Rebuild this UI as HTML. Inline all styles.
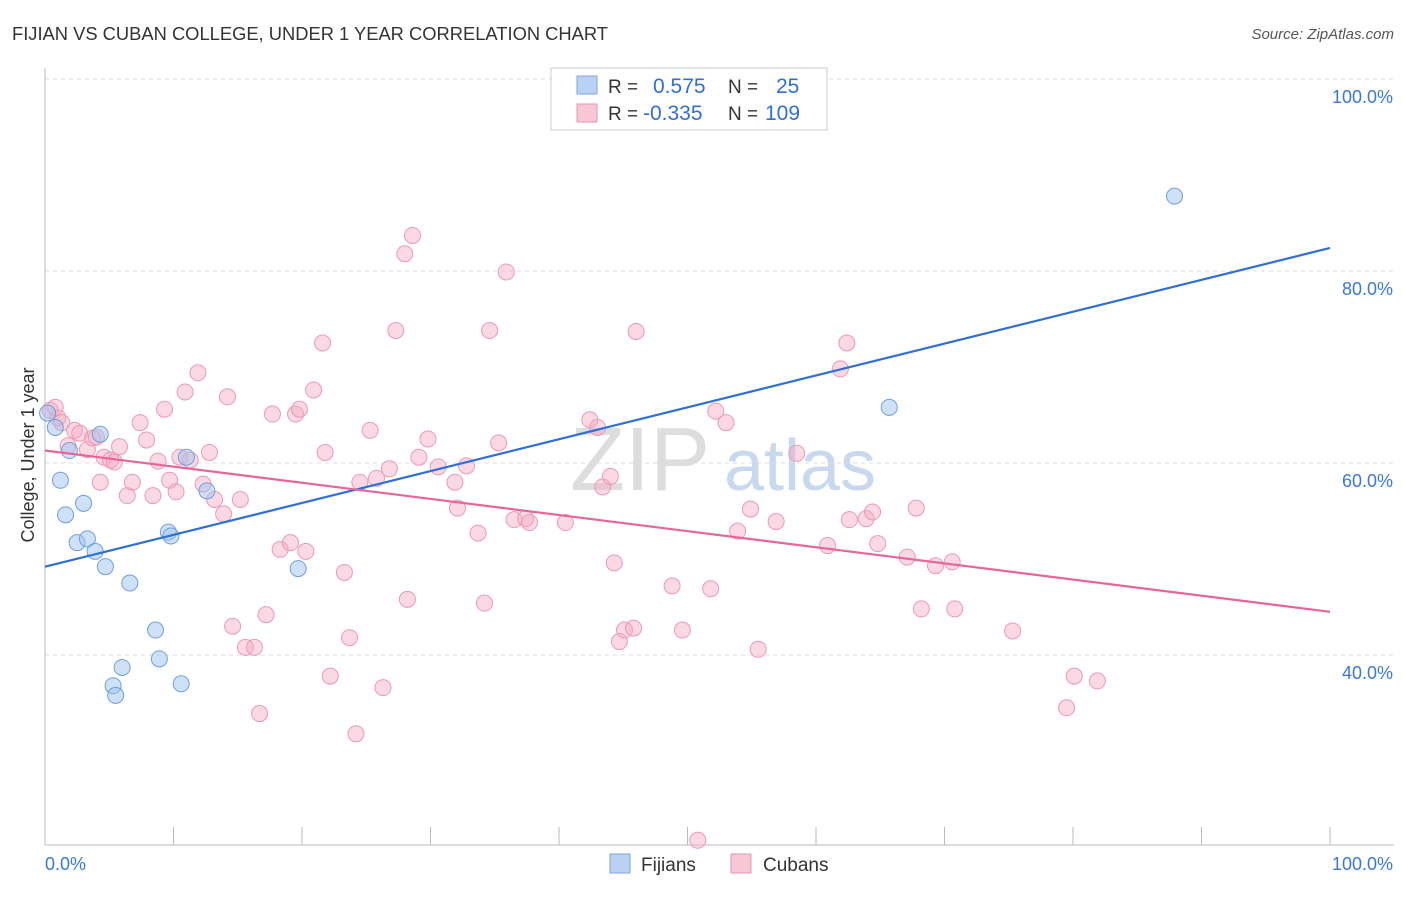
<!DOCTYPE html>
<html><head><meta charset="utf-8"><style>
body{margin:0;background:#fff;font-family:"Liberation Sans",sans-serif;}
svg text{font-family:"Liberation Sans",sans-serif;}
</style></head><body>
<svg id="chart" width="1406" height="892" viewBox="0 0 1406 892" xmlns="http://www.w3.org/2000/svg">
<text x="12" y="40" font-size="18" fill="#333" textLength="596" lengthAdjust="spacingAndGlyphs">FIJIAN VS CUBAN COLLEGE, UNDER 1 YEAR CORRELATION CHART</text>
<text x="1394" y="39" font-size="15" fill="#555" font-style="italic" text-anchor="end">Source: ZipAtlas.com</text>
<text x="640" y="490" font-size="90" fill="#ddd" font-family="Liberation Serif" text-anchor="middle">ZIP</text>
<text x="800" y="490" font-size="72" fill="#c8d8ef" text-anchor="middle">atlas</text>
<g id="grid"></g>
<g id="axes"></g>
<g id="marks"></g>
<g>
<rect x="551" y="68" width="276" height="62" fill="#fff" stroke="#ccc"/>
<rect x="577" y="76" width="20" height="18" fill="#b9d1f3" stroke="#7da6e0"/>
<text x="608" y="93" font-size="19" fill="#333">R = </text><text x="653" y="93" font-size="21" fill="#2f6fd8">0.575</text>
<text x="728" y="93" font-size="19" fill="#333">N = </text><text x="776" y="93" font-size="21" fill="#2f6fd8">25</text>
<rect x="577" y="104" width="20" height="18" fill="#f8c6d5" stroke="#e995b0"/>
<text x="608" y="120" font-size="19" fill="#333">R = </text><text x="643" y="120" font-size="21" fill="#2f6fd8">-0.335</text>
<text x="728" y="120" font-size="19" fill="#333">N = </text><text x="765" y="120" font-size="21" fill="#2f6fd8">109</text>
</g>
<g>
<rect x="610" y="854" width="20" height="19" fill="#b9d1f3" stroke="#7da6e0"/>
<text x="641" y="871" font-size="19" fill="#333">Fijians</text>
<rect x="731" y="854" width="20" height="19" fill="#f8c6d5" stroke="#e995b0"/>
<text x="763" y="871" font-size="19" fill="#333">Cubans</text>
</g>
<text transform="translate(34,455) rotate(-90)" font-size="18" fill="#333" text-anchor="middle">College, Under 1 year</text>
</svg>
<script>
const yTicks=[40,60,80,100];
const yTickLabels=["40.0%","60.0%","80.0%","100.0%"];
const xTickLabels=["0.0%","100.0%"];
const fijianX=[0.2,0.8,1.2,1.9,1.6,2.5,3.0,3.3,3.9,4.3,4.7,5.3,5.5,6.0,6.6,8.6,8.9,9.6,9.8,10.6,11.0,12.6,19.7,65.7,87.9];
const fijianY=[65.2,63.7,58.2,61.3,54.6,51.7,55.8,52.1,50.8,63.0,49.2,36.8,35.8,38.7,47.5,42.6,39.6,52.8,52.4,37.0,60.6,57.1,49.0,65.8,87.8];
const cubanX=[0.4,0.8,1.0,1.3,1.8,2.3,2.7,3.3,3.7,4.0,4.3,4.6,5.1,5.4,5.8,6.4,6.8,7.4,7.9,8.4,8.8,9.3,9.7,10.2,10.5,10.9,11.3,11.9,12.3,12.8,13.2,13.9,14.2,14.6,15.2,15.6,16.3,16.7,17.2,17.7,18.3,19.1,19.5,19.8,20.3,20.9,21.6,21.8,22.2,23.3,23.7,24.2,24.5,25.3,25.8,26.3,26.8,27.3,28.0,28.2,28.6,29.1,29.8,30.6,31.9,32.1,32.8,33.7,34.2,34.6,35.3,35.9,36.5,37.4,37.7,40.5,42.4,43.0,43.4,44.0,44.3,44.7,45.1,45.8,46.0,48.8,49.6,50.8,51.8,52.2,53.0,53.9,54.9,55.5,56.9,58.5,60.9,61.9,62.4,62.6,63.9,64.4,64.8,67.1,67.8,68.2,69.3,70.6,70.8,75.3,79.5,80.1,81.9];
const cubanY=[65.5,65.8,64.7,64.2,61.8,63.4,63.1,61.4,62.6,62.7,58.0,60.6,60.3,60.1,61.7,56.6,58.0,64.2,62.4,56.6,60.2,65.6,58.2,57.0,60.6,67.4,60.3,69.4,57.8,61.1,56.2,54.7,66.9,43.0,56.2,40.8,40.8,33.9,44.2,65.1,51.0,51.7,65.1,65.6,50.8,67.6,72.5,61.1,37.8,48.6,41.8,31.8,58.0,63.4,58.4,36.6,59.4,73.8,81.8,45.8,83.7,60.6,62.5,59.6,58.0,55.3,59.7,52.7,45.4,73.8,62.1,79.9,54.1,54.2,53.8,53.8,64.5,63.7,57.5,58.6,49.6,41.4,42.6,42.8,73.7,47.2,42.6,20.7,46.9,65.4,64.2,52.9,55.2,40.6,53.9,61.0,51.4,69.8,72.5,54.1,54.2,54.9,51.6,50.2,55.3,44.8,49.3,49.7,44.8,42.5,34.5,37.8,37.3];
const fijianTrend=[49.2,82.4];
const cubanTrend=[61.3,44.5];
const NS="http://www.w3.org/2000/svg";
const X0=45,X1=1330,Y0=1039,Y100=79;
const sx=v=>X0+(X1-X0)*v/100;
const sy=v=>Y0-(Y0-Y100)*v/100;
function mk(tag,attrs,parent){const e=document.createElementNS(NS,tag);for(const k in attrs)e.setAttribute(k,attrs[k]);parent.appendChild(e);return e;}
const grid=document.getElementById('grid'),axes=document.getElementById('axes'),marks=document.getElementById('marks');
yTicks.forEach((t,i)=>{
 const l=mk('line',{x1:X0,x2:1394,y1:sy(t),y2:sy(t),stroke:'#ddd','stroke-dasharray':'4,4'},grid);
 
 
 const tx=mk('text',{x:1393,y:sy(t)+24,'font-size':18,fill:'#3a78d8','text-anchor':'end'},axes);
 tx.textContent=yTickLabels[i];
 
 
});
const ax=mk('line',{x1:X0,x2:1394,y1:845,y2:845,stroke:'#bbb'},axes);


const ay=mk('line',{x1:X0,x2:X0,y1:68,y2:845,stroke:'#bbb'},axes);


for(let i=1;i<=10;i++){const x=sx(i*10);const t=mk('line',{x1:x,x2:x,y1:827,y2:845,stroke:'#bbb'},axes);
 
 }
[[0,'start',45],[1,'end',1393]].forEach(([i,a,x])=>{const t=mk('text',{x:x,y:870,'font-size':18,fill:'#3a78d8','text-anchor':a},axes);t.textContent=xTickLabels[i];
 
 });
cubanX.forEach((v,i)=>{const c=mk('circle',{cx:sx(v),cy:sy(cubanY[i]),r:8,fill:'rgba(245,170,195,0.45)',stroke:'#eb9ab4','stroke-width':1},marks);
 
 });
fijianX.forEach((v,i)=>{const c=mk('circle',{cx:sx(v),cy:sy(fijianY[i]),r:8,fill:'rgba(160,195,240,0.5)',stroke:'#6f9fdf','stroke-width':1},marks);
 
 });
const bl=mk('line',{x1:sx(0),y1:sy(fijianTrend[0]),x2:sx(100),y2:sy(fijianTrend[1]),stroke:'#2f6fd8','stroke-width':2.2},marks);


const pl=mk('line',{x1:sx(0),y1:sy(cubanTrend[0]),x2:sx(100),y2:sy(cubanTrend[1]),stroke:'#e8659a','stroke-width':2.2},marks);


</script>
</body></html>
